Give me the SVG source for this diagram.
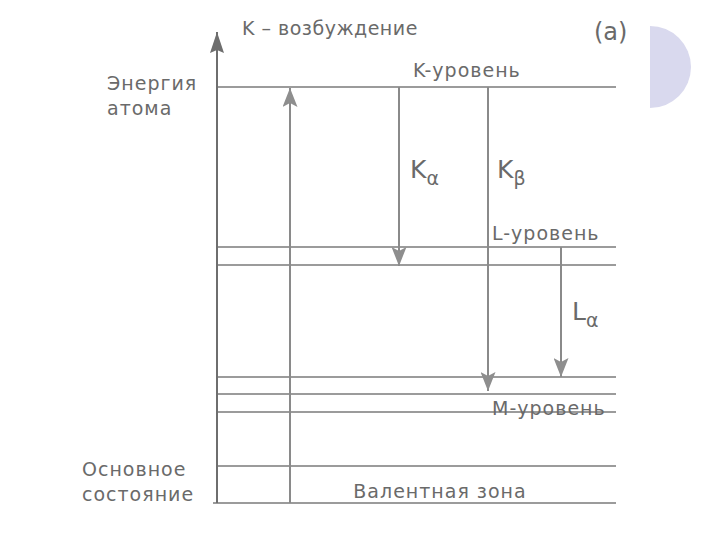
<svg xmlns="http://www.w3.org/2000/svg" width="720" height="540" viewBox="0 0 720 540">
<style>
.t{font-family:"DejaVu Sans","Liberation Sans",sans-serif;fill:#6a6a6a;}
.lb{font-size:19px;letter-spacing:1px;}
.lv{stroke:#7a7a7a;stroke-width:1.6;fill:none;}
.ar{stroke:#8a8a8a;stroke-width:2;fill:none;}
</style>
<defs>
<marker id="ah" markerWidth="20" markerHeight="15" refX="19" refY="7.5" orient="auto" markerUnits="userSpaceOnUse" viewBox="0 0 20 15">
<path d="M0,0 L19,7.5 L0,15 L4,7.5 Z" fill="#8e8e8e"/>
</marker>
<marker id="ahd" markerWidth="22" markerHeight="14" refX="21" refY="7" orient="auto" markerUnits="userSpaceOnUse" viewBox="0 0 22 14">
<path d="M0,0 L21,7 L0,14 L3,7 Z" fill="#6e6e6e"/>
</marker>
</defs>
<rect width="720" height="540" fill="#fff"/>
<path d="M650,26 A41,41 0 0 1 650,108 Z" fill="#d9d9ee"/>
<g id="levels">
<line class="lv" x1="216" y1="87" x2="616" y2="87"/>
<line class="lv" x1="216" y1="247" x2="616" y2="247"/>
<line class="lv" x1="216" y1="265" x2="616" y2="265"/>
<line class="lv" x1="216" y1="377" x2="616" y2="377"/>
<line class="lv" x1="216" y1="394" x2="616" y2="394"/>
<line class="lv" x1="216" y1="412" x2="616" y2="412"/>
<line class="lv" x1="216" y1="466" x2="616" y2="466"/>
<line class="lv" x1="213" y1="503" x2="616" y2="503"/>
</g>
<g id="connectors">
<line x1="217" y1="503" x2="217" y2="32" stroke="#6e6e6e" stroke-width="2" marker-end="url(#ahd)"/>
<line class="ar" x1="290" y1="503" x2="290" y2="88" marker-end="url(#ah)"/>
<line class="ar" x1="399" y1="87" x2="399" y2="266" marker-end="url(#ah)"/>
<line class="ar" x1="488" y1="87" x2="488" y2="391" marker-end="url(#ah)"/>
<line class="ar" x1="561" y1="247" x2="561" y2="377" marker-end="url(#ah)"/>
</g>
<g id="labels">
<text class="t" x="242" y="35" font-size="19" letter-spacing="0.5">K – возбуждение</text>
<text class="t" x="594" y="40" font-size="24">(a)</text>
<text class="t lb" x="413" y="77">K-уровень</text>
<text class="t lb" x="107" y="90">Энергия</text>
<text class="t lb" x="107" y="115">атома</text>
<text class="t" x="410" y="178" font-size="25">K<tspan font-size="19" dy="7">α</tspan></text>
<text class="t" x="497" y="178" font-size="25">K<tspan font-size="19" dy="7">β</tspan></text>
<text class="t lb" x="492" y="240">L-уровень</text>
<text class="t" x="572" y="320" font-size="25">L<tspan font-size="19" dy="7">α</tspan></text>
<text class="t lb" x="492" y="415">M-уровень</text>
<text class="t lb" x="82" y="476">Основное</text>
<text class="t lb" x="82" y="501">состояние</text>
<text class="t lb" x="440" y="498" text-anchor="middle">Валентная зона</text>
</g>
</svg>
